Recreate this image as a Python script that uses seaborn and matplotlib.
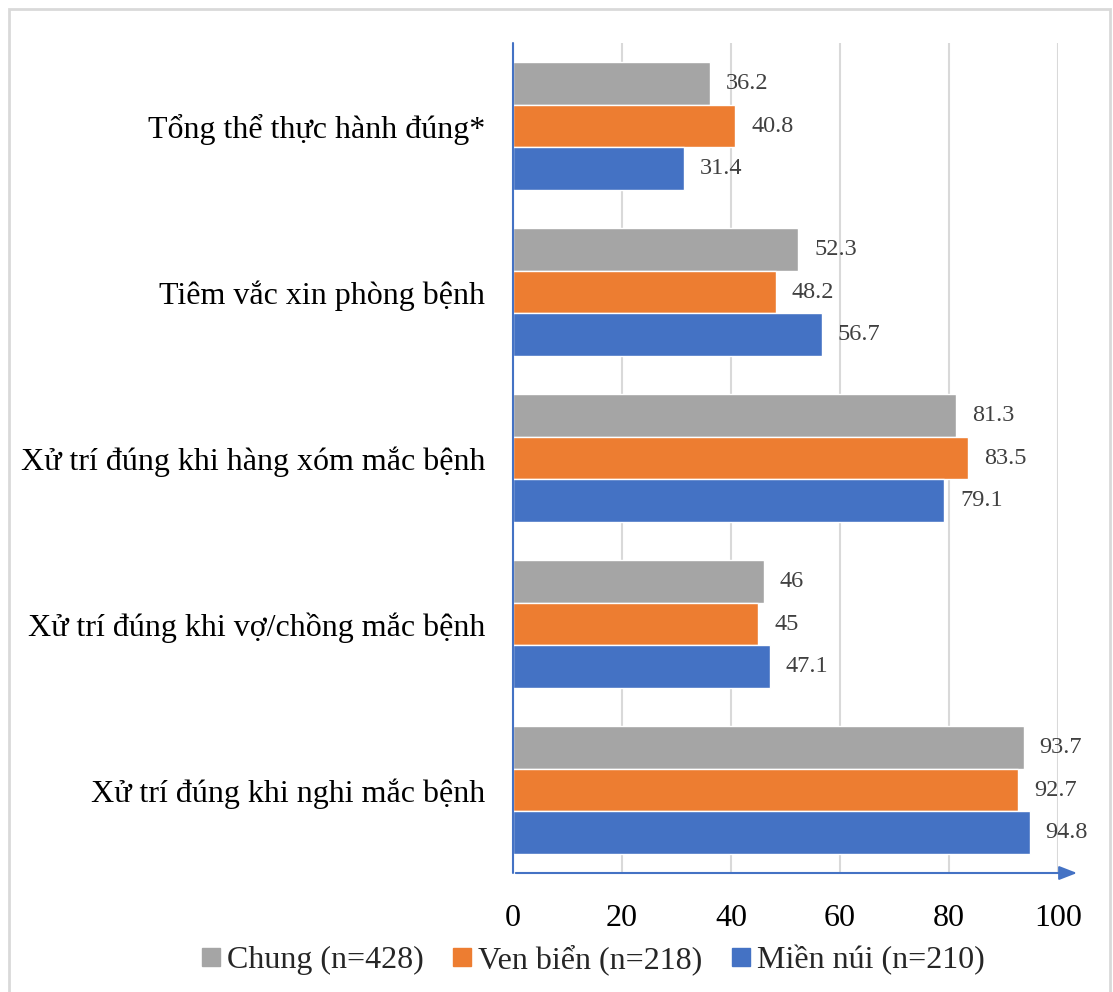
import pandas as pd
import matplotlib.pyplot as plt
import seaborn as sns
from matplotlib.patches import Rectangle
from matplotlib.lines import Line2D

# dữ liệu
categories = ['Tổng thể thực hành đúng*', 'Tiêm vắc xin phòng bệnh',
              'Xử trí đúng khi hàng xóm mắc bệnh', 'Xử trí đúng khi vợ/chồng mắc bệnh',
              'Xử trí đúng khi nghi mắc bệnh']
groups = ['Chung (n=428)', 'Ven biển (n=218)', 'Miền núi (n=210)']
chung = [36.2, 52.3, 81.3, 46, 93.7]
ven_bien = [40.8, 48.2, 83.5, 45, 92.7]
mien_nui = [31.4, 56.7, 79.1, 47.1, 94.8]
colors = ['#A5A5A5', '#ED7D31', '#4472C4']

df = pd.DataFrame({
    'cat': categories * 3,
    'group': [groups[0]] * 5 + [groups[1]] * 5 + [groups[2]] * 5,
    'value': chung + ven_bien + mien_nui,
})

sns.set_theme(style='white')
plt.rcParams['font.family'] = ['Liberation Serif', 'DejaVu Serif']

fig = plt.figure(figsize=(11.13, 9.92), dpi=100)
ax = fig.add_axes([513 / 1113, 1 - 873 / 992, (1058 - 513) / 1113, (873 - 43) / 992])

sns.barplot(data=df, y='cat', x='value', hue='group', order=categories,
            hue_order=groups, palette=colors, orient='h', width=0.77,
            saturation=1, ax=ax, legend=False)

for cont in ax.containers:
    ax.bar_label(cont, labels=[f'{v:g}' for v in cont.datavalues], padding=11.5,
                 fontsize=17.5, color='#404040')

ax.set_xlim(0, 100)
ax.set_xticks([0, 20, 40, 60, 80, 100])
ax.set_ylim(4.5, -0.5)
ax.set_xlabel('')
ax.set_ylabel('')
ax.tick_params(axis='x', labelsize=23, length=0, pad=22, colors='black')
ax.tick_params(axis='y', labelsize=23, length=0, pad=20, colors='black')
ax.grid(axis='x', color='#D9D9D9', linewidth=1.5)
ax.set_axisbelow(True)
for s in ax.spines.values():
    s.set_visible(False)

# trục có mũi tên
ax.plot([0, 0], [4.5, -0.5], color='#4472C4', lw=1.5, clip_on=False, zorder=5)
ax.annotate('', xy=(104, 4.5), xytext=(0, 4.5), xycoords='data',
            arrowprops=dict(arrowstyle='-|>,head_length=0.9,head_width=0.35',
                            color='#4472C4', lw=1.5), annotation_clip=False, zorder=5)

handles = [Line2D([], [], marker='s', linestyle='', markersize=12.5, color=c) for c in colors]
fig.legend(handles, groups, loc='center', bbox_to_anchor=(0.533, 1 - 960 / 992), ncol=3,
           frameon=False, fontsize=23, handlelength=0.6, handletextpad=0.2,
           columnspacing=0.9)

fig.patches.append(Rectangle((9 / 1113, -0.05), (1110 - 9) / 1113, 1.05 - 9 / 992,
                             transform=fig.transFigure, fill=False,
                             edgecolor='#D9D9D9', linewidth=2))

fig.savefig('out.png', dpi=100)
